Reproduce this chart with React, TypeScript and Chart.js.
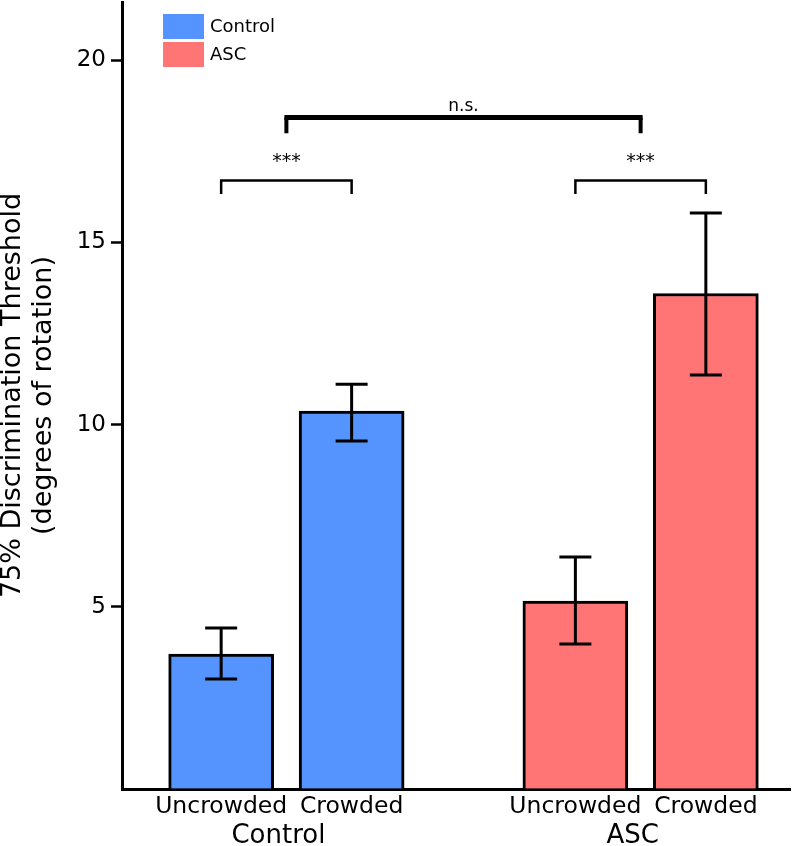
import React, { useEffect, useRef } from 'react';
import { Chart, registerables } from 'chart.js';

Chart.register(...registerables);

// ---- data ----
const groups = ['Control', 'ASC'];
const conditions = ['Uncrowded', 'Crowded'];
const controlMean = [3.7, 10.37];
const controlLow = [3.02, 9.55];
const controlHigh = [4.42, 11.11];
const ascMean = [5.16, 13.6];
const ascLow = [3.98, 11.36];
const ascHigh = [6.37, 15.81];
const yTicks = [5, 10, 15, 20];
const withinGroupLabels = ['***', '***'];
const betweenGroupLabel = 'n.s.';
const yTitle = ['75% Discrimination Threshold', '(degrees of rotation)'];

// ---- layout / style ----
const FONT = "'DejaVu Sans', Verdana, sans-serif";
const colors = ['#5594FF', '#FF7575'];
const GROUP_GAP = 2.715;
const X_MIN = 0.24;
const X_MAX = 5.36;
const Y_MAX = 21.6;
const WIDTH = 792;
const HEIGHT = 846;

const means = [controlMean, ascMean];
const lows = [controlLow, ascLow];
const highs = [controlHigh, ascHigh];
const xPos = (g: number, c: number) => 1 + g * GROUP_GAP + c;
const tickPositions = groups.flatMap((_, gi) => conditions.map((_, ci) => xPos(gi, ci)));
const tickLabels = groups.flatMap(() => conditions);

const overlayPlugin = {
  id: 'overlay',
  afterDatasetsDraw(chart: any) {
    const { ctx, scales } = chart;
    const xs = scales.x;
    const ys = scales.y;
    ctx.save();
    ctx.strokeStyle = '#000';
    ctx.fillStyle = '#000';
    // error bars
    ctx.lineWidth = 3;
    groups.forEach((_, gi) => {
      conditions.forEach((_, ci) => {
        const px = xs.getPixelForValue(xPos(gi, ci));
        const top = ys.getPixelForValue(highs[gi][ci]);
        const bot = ys.getPixelForValue(lows[gi][ci]);
        ctx.beginPath();
        ctx.moveTo(px, top);
        ctx.lineTo(px, bot);
        ctx.moveTo(px - 16, top);
        ctx.lineTo(px + 16, top);
        ctx.moveTo(px - 16, bot);
        ctx.lineTo(px + 16, bot);
        ctx.stroke();
      });
    });
    // within-group brackets
    const smallTop = ys.getPixelForValue(16.7);
    const smallBot = ys.getPixelForValue(16.33);
    groups.forEach((_, gi) => {
      const a = xs.getPixelForValue(xPos(gi, 0));
      const b = xs.getPixelForValue(xPos(gi, 1));
      ctx.lineWidth = 2.5;
      ctx.beginPath();
      ctx.moveTo(a, smallBot);
      ctx.lineTo(a, smallTop);
      ctx.lineTo(b, smallTop);
      ctx.lineTo(b, smallBot);
      ctx.stroke();
      ctx.font = `19px ${FONT}`;
      ctx.textAlign = 'center';
      ctx.textBaseline = 'middle';
      ctx.fillText(withinGroupLabels[gi], (a + b) / 2, smallTop - 18);
    });
    // between-group bracket
    const c0 = (xs.getPixelForValue(xPos(0, 0)) + xs.getPixelForValue(xPos(0, 1))) / 2;
    const c1 = (xs.getPixelForValue(xPos(1, 0)) + xs.getPixelForValue(xPos(1, 1))) / 2;
    const bigTop = ys.getPixelForValue(18.43);
    const bigBot = ys.getPixelForValue(18.0);
    ctx.lineWidth = 4;
    ctx.beginPath();
    ctx.moveTo(c0, bigBot);
    ctx.lineTo(c0, bigTop);
    ctx.moveTo(c1, bigBot);
    ctx.lineTo(c1, bigTop);
    ctx.stroke();
    ctx.lineWidth = 5;
    ctx.beginPath();
    ctx.moveTo(c0 - 2, bigTop);
    ctx.lineTo(c1 + 2, bigTop);
    ctx.stroke();
    ctx.font = `17px ${FONT}`;
    ctx.textAlign = 'center';
    ctx.textBaseline = 'alphabetic';
    ctx.fillText(betweenGroupLabel, (c0 + c1) / 2, bigTop - 6);

    // legend
    const lx = chart.chartArea.left + 41;
    const ly = chart.chartArea.top + 12;
    groups.forEach((g, gi) => {
      ctx.fillStyle = colors[gi];
      ctx.fillRect(lx, ly + gi * 28, 41, 25);
      ctx.fillStyle = '#000';
      ctx.font = `18px ${FONT}`;
      ctx.textAlign = 'left';
      ctx.textBaseline = 'middle';
      ctx.fillText(g, lx + 47, ly + gi * 28 + 13);
    });
    ctx.restore();
  },
  afterDraw(chart: any) {
    const { ctx, scales } = chart;
    const xs = scales.x;
    ctx.save();
    ctx.fillStyle = '#000';
    ctx.font = `26px ${FONT}`;
    ctx.textAlign = 'center';
    ctx.textBaseline = 'alphabetic';
    groups.forEach((g, gi) => {
      const cx = (xs.getPixelForValue(xPos(gi, 0)) + xs.getPixelForValue(xPos(gi, 1))) / 2 - 8;
      ctx.fillText(g, cx, 843);
    });
    ctx.restore();
  },
};

export default function App() {
  const canvasRef = useRef<HTMLCanvasElement | null>(null);

  useEffect(() => {
    document.body.style.margin = '0';
    const canvas = canvasRef.current;
    if (!canvas) return;
    const chart = new Chart(canvas, {
      type: 'bar',
      data: {
        datasets: groups.map((g, gi) => ({
          label: g,
          data: conditions.map((_, ci) => ({ x: xPos(gi, ci), y: means[gi][ci] })),
          backgroundColor: colors[gi],
          borderColor: '#000',
          borderWidth: 3,
          barThickness: 105,
          grouped: false,
        })),
      },
      options: {
        responsive: false,
        animation: false,
        layout: { padding: { top: 2, right: 2, left: 0, bottom: 0 } },
        plugins: {
          legend: { display: false },
          tooltip: { enabled: false },
        },
        scales: {
          x: {
            type: 'linear',
            min: X_MIN,
            max: X_MAX,
            offset: false,
            afterFit: (s: any) => {
              s.height = 57;
              s.paddingLeft = 0;
              s.paddingRight = 0;
            },
            afterBuildTicks: (s: any) => {
              s.ticks = tickPositions.map((v) => ({ value: v }));
            },
            grid: { display: true, drawOnChartArea: false, drawTicks: false },
            border: { display: true, color: '#000', width: 3 },
            ticks: {
              autoSkip: false,
              maxRotation: 0,
              padding: 4,
              color: '#000',
              font: { family: FONT, size: 23.5 },
              callback: (_v: any, i: number) => tickLabels[i],
            },
          },
          y: {
            type: 'linear',
            min: 0,
            max: Y_MAX,
            afterFit: (s: any) => {
              s.width = 122;
              s.paddingTop = 0;
              s.paddingBottom = 0;
            },
            afterBuildTicks: (s: any) => {
              s.ticks = [0, ...yTicks].map((v) => ({ value: v }));
            },
            grid: {
              display: true,
              drawOnChartArea: false,
              drawTicks: true,
              tickLength: 11,
              tickWidth: 2.5,
              tickColor: (c: any) => (c.tick && c.tick.value === 0 ? 'rgba(0,0,0,0)' : '#000'),
            },
            border: { display: true, color: '#000', width: 3 },
            ticks: {
              padding: 5,
              color: '#000',
              font: { family: FONT, size: 23 },
              callback: (v: any) => (v === 0 ? '' : String(v)),
            },
            title: {
              display: true,
              text: yTitle,
              color: '#000',
              font: { family: FONT, size: 27, lineHeight: 1.15 },
              padding: { top: -3, bottom: 0 },
            },
          },
        },
      },
      plugins: [overlayPlugin],
    } as any);
    return () => chart.destroy();
  }, []);

  return (
    <div style={{ width: WIDTH, height: HEIGHT }}>
      <canvas ref={canvasRef} width={WIDTH} height={HEIGHT} style={{ display: 'block' }} />
    </div>
  );
}
